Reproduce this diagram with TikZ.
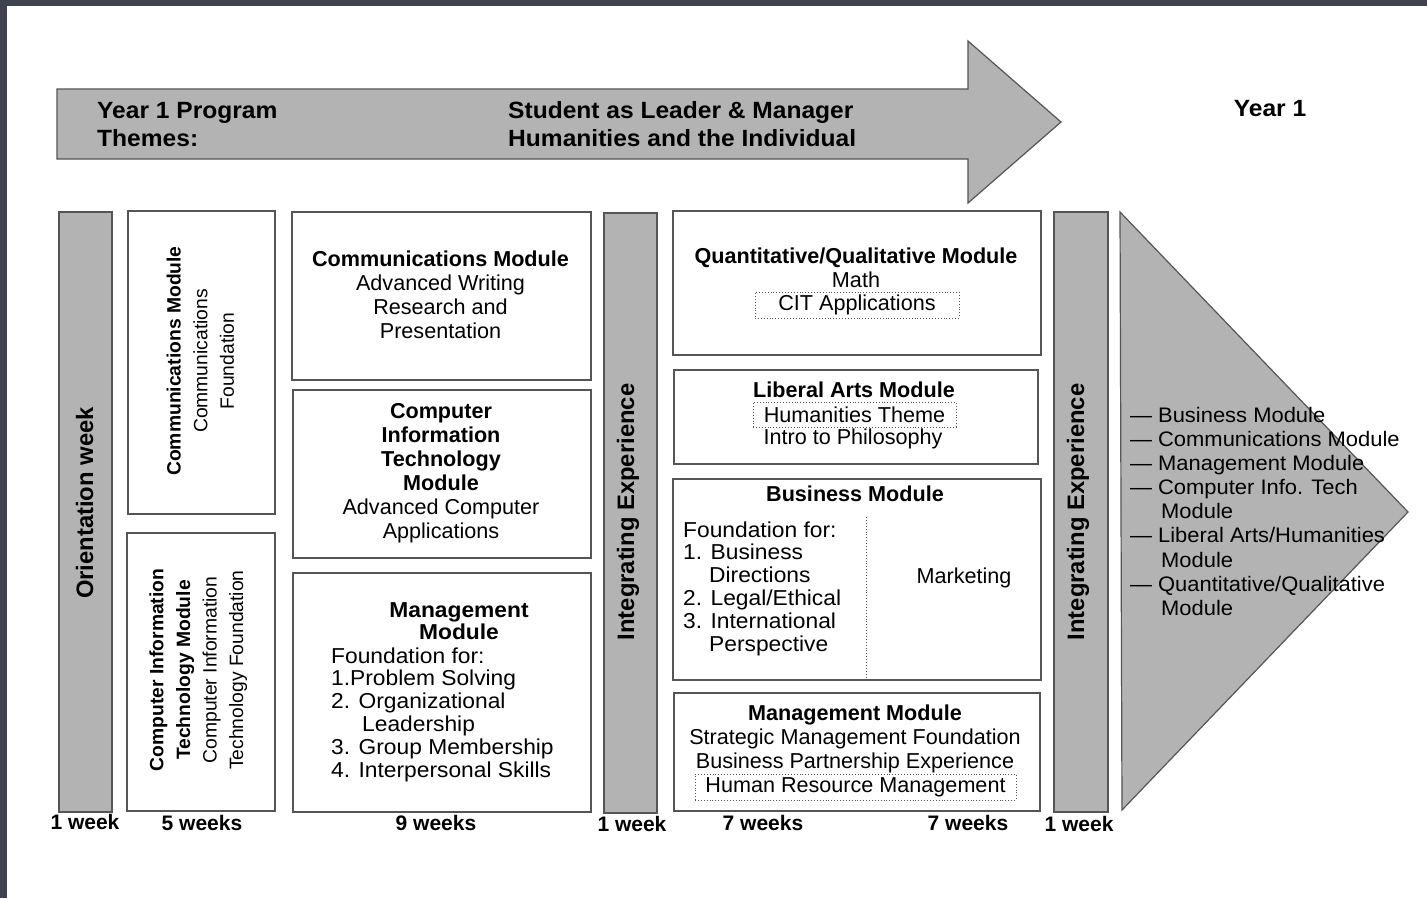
\documentclass[tikz,border=0pt]{standalone}
\usepackage{fontspec}
\setmainfont{Liberation Sans}
\newfontfamily\widesans{Liberation Sans}[FakeStretch=1.045]
\newfontfamily\listsans{Liberation Sans}[FakeStretch=1.055]

\definecolor{bandgray}{HTML}{B3B3B3}
\definecolor{edgegray}{HTML}{555555}
\definecolor{framedark}{HTML}{40424F}

% stacked lines of text, centred or flush left
\newcommand\cstack[1]{\begin{tabular}{@{}c@{}}#1\end{tabular}}
\newcommand\lstack[1]{\begin{tabular}{@{}l@{}}#1\end{tabular}}

% type sizes
\newcommand\titlefont{\widesans\bfseries\fontsize{23.5}{28}\selectfont}
\newcommand\barfont{\bfseries\fontsize{23.8}{28}\selectfont}
\newcommand\bodyfont{\fontsize{21.6}{24}\selectfont}
\newcommand\listfont{\listsans\fontsize{21.6}{22.8}\selectfont}
\newcommand\sidefont{\fontsize{19.3}{26.6}\selectfont}
\newcommand\weekfont{\bfseries\fontsize{21}{24}\selectfont}
\newcommand\conefont{\widesans\fontsize{21}{24.1}\selectfont}

\tikzset{
  bar/.style={draw=edgegray, line width=1.5pt, fill=bandgray, inner sep=0, anchor=north west},
  modbox/.style={draw=edgegray, line width=1.5pt, fill=white, inner sep=0, anchor=north west},
  dotbox/.style={draw=edgegray, dotted, line width=0.9pt, inner sep=0},
  txt/.style={inner sep=0, text=black},
  shape arrow/.style={draw=edgegray, line width=1.2pt, fill=bandgray, line join=miter},
}

\begin{document}
\begin{tikzpicture}[x=1pt, y=-1pt]
\useasboundingbox (0,0) rectangle (1427,898);
\fill[white] (0,0) rectangle (1427,898);
% dark frame along the top and left edges
\fill[framedark] (0,0) rectangle (1427,5.5);
\fill[framedark] (0,0) rectangle (7,898);

% ---------------- program-themes arrow ----------------
\draw[shape arrow] (57,89) -- (968,89) -- (968,41) -- (1061,122) -- (968,203)
  -- (968,159) -- (57,159) -- cycle;
\node[txt, anchor=west] (themeL) at (97,126.5)
  {\titlefont\lstack{Year 1 Program\\Themes:}};
\node[txt, anchor=west] (themeR) at (508,126.5)
  {\titlefont\lstack{Student as Leader \& Manager\\Humanities and the Individual}};
\node[txt] (year) at (1270,109) {\titlefont Year 1};

% ---------------- orientation week ----------------
\node[bar, minimum width=53, minimum height=600] (orientbar) at (58,211) {};
\node[txt, rotate=90] (orient) at (84.5,503) {\barfont Orientation week};
\node[txt] (wk1) at (85,822) {\weekfont 1 week};

% ---------------- 5-week foundation modules ----------------
\node[modbox, minimum width=147, minimum height=303] (commA) at (127,210) {};
\node[txt, rotate=90] (commAtxt) at (202,361)
  {\sidefont\cstack{\textbf{Communications Module}\\Communications\\Foundation}};
\node[modbox, minimum width=148, minimum height=278] (citA) at (126,532) {};
\node[txt, rotate=90] (citAtxt) at (198,670)
  {\sidefont\cstack{\textbf{Computer Information}\\\textbf{Technology Module}\\Computer Information\\Technology Foundation}};
\node[txt] (wk5) at (202,823) {\weekfont 5 weeks};

% ---------------- 9-week modules ----------------
\node[modbox, minimum width=299, minimum height=168] (commB) at (291,211) {};
\node[txt] (commBtxt) at (440.5,297.5)
  {\bodyfont\cstack{\textbf{Communications Module}\\Advanced Writing\\Research and\\Presentation}};
\node[modbox, minimum width=298, minimum height=168] (citB) at (292,389) {};
\node[txt] (citBtxt) at (441,473.5)
  {\bodyfont\cstack{\textbf{Computer}\\\textbf{Information}\\\textbf{Technology}\\\textbf{Module}\\Advanced Computer\\Applications}};
\node[modbox, minimum width=298, minimum height=239] (mgmtB) at (292,572) {};
\node[txt] (mgmtBhead) at (459,624)
  {\listfont\cstack{\textbf{Management}\\\textbf{Module}}};
\node[txt, anchor=west] (mgmtBlist) at (331,715.5)
  {\listfont\lstack{Foundation for:\\1.Problem Solving\\2. Organizational\\\hspace{31pt}Leadership\\3. Group Membership\\4. Interpersonal Skills}};
\node[txt] (wk9) at (436,823) {\weekfont 9 weeks};

% ---------------- first integrating experience ----------------
\node[bar, minimum width=53, minimum height=600] (integA) at (603,212) {};
\node[txt, rotate=90] (integAtxt) at (628,512) {\barfont Integrating Experience};
\node[txt] (wk1b) at (632,824) {\weekfont 1 week};

% ---------------- 7-week modules ----------------
\node[modbox, minimum width=368, minimum height=144] (quant) at (672,210) {};
\node[txt] (quanttxt) at (856,270.5)
  {\bodyfont\cstack{\textbf{Quantitative/Qualitative Module}\\Math}};
\node[dotbox, minimum width=204, minimum height=26] (cit) at (857,305)
  {\bodyfont CIT Applications};

\node[modbox, minimum width=364, minimum height=94] (libarts) at (673,369) {};
\node[txt] (libhead) at (854,390) {\bodyfont\bfseries Liberal Arts Module};
\node[dotbox, minimum width=203, minimum height=25] (human) at (854.5,414.5)
  {\bodyfont Humanities Theme};
\node[txt] (philo) at (853,439) {\bodyfont Intro to Philosophy};

\node[modbox, minimum width=368, minimum height=201] (biz) at (672,478) {};
\node[txt] (bizhead) at (855,494) {\bodyfont\bfseries Business Module};
\node[txt, anchor=west] (bizlist) at (683,589.5)
  {\listfont\lstack{Foundation for:\\1. Business\\\hspace{26pt}Directions\\2. Legal/Ethical\\3. International\\\hspace{26pt}Perspective}};
\node[txt] (market) at (964,578) {\bodyfont Marketing};
\coordinate (splitT) at (866,517);
\coordinate (splitB) at (866,678);
\draw[edgegray, dotted, line width=0.9pt] (splitT) -- (splitB);

\node[modbox, minimum width=366, minimum height=118] (mgmtC) at (673,692) {};
\node[txt] (mgmtCtxt) at (855,739.5)
  {\bodyfont\cstack{\textbf{Management Module}\\Strategic Management Foundation\\Business Partnership Experience}};
\node[dotbox, minimum width=321, minimum height=26] (hrm) at (855.5,787)
  {\bodyfont Human Resource Management};
\node[txt] (wk7a) at (763,823) {\weekfont 7 weeks};
\node[txt] (wk7b) at (968,823) {\weekfont 7 weeks};

% ---------------- second integrating experience ----------------
\node[bar, minimum width=54, minimum height=600] (integB) at (1053,211) {};
\node[txt, rotate=90] (integBtxt) at (1078,512) {\barfont Integrating Experience};
\node[txt] (wk1c) at (1079,824) {\weekfont 1 week};

% ---------------- year-one outcome cone ----------------
\draw[shape arrow] (1120,212) -- (1408,512) -- (1122,810) -- cycle;
\node[txt, anchor=west] (outcomes) at (1130,514)
  {\conefont\begin{tabular}{@{}l@{\hspace{6pt}}l@{}}
   — & Business Module\\
   — & Communications Module\\
   — & Management Module\\
   — & Computer Info. Tech\\
     & \hspace{3pt}Module\\
   — & Liberal Arts/Humanities\\
     & \hspace{3pt}Module\\
   — & Quantitative/Qualitative\\
     & \hspace{3pt}Module
   \end{tabular}};
\end{tikzpicture}
\end{document}
